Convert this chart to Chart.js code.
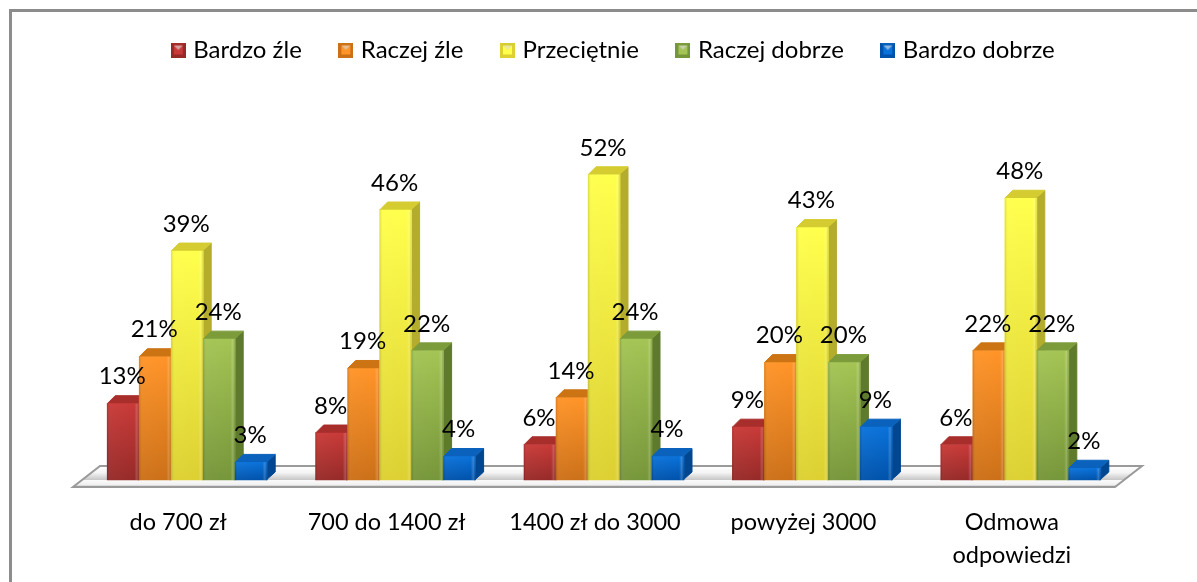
<!DOCTYPE html>
<html>
<head>
<meta charset="utf-8">
<script src="https://cdn.jsdelivr.net/npm/chart.js@4"></script>
<style>
  body { margin: 0; background: #fff; }
  canvas { display: block; }
</style>
</head>
<body>
<canvas id="myChart" width="1197" height="582"></canvas>
<script>
var categories = ["do 700 zł", "700 do 1400 zł", "1400 zł do 3000", "powyżej 3000", ["Odmowa", "odpowiedzi"]];
var seriesNames = ["Bardzo źle", "Raczej źle", "Przeciętnie", "Raczej dobrze", "Bardzo dobrze"];
var bardzoZle = [13, 8, 6, 9, 6];
var raczejZle = [21, 19, 14, 20, 22];
var przecietnie = [39, 46, 52, 43, 48];
var raczejDobrze = [24, 22, 24, 20, 22];
var bardzoDobrze = [3, 4, 4, 9, 2];

// top of front, bottom of front, side, lid
var colors = [
  ["#c83a38", "#962a28", "#8e2624", "#a82e2c"],
  ["#ff9428", "#cc7018", "#b8640e", "#cc7414"],
  ["#ffff4c", "#dcd032", "#b4ac2c", "#d4cc30"],
  ["#a4c454", "#76963a", "#5e7a2c", "#7c9c3c"],
  ["#0a72da", "#0052aa", "#004690", "#0a62bc"]
];

var DEPTH_X = 9, DEPTH_Y = 8;

// beveled legend square like the office 3d key
function makeMarker(c) {
  var cv = document.createElement("canvas");
  cv.width = 15; cv.height = 15;
  var g = cv.getContext("2d");
  g.fillStyle = c[1];
  g.fillRect(0, 0, 15, 15);
  g.fillStyle = c[0];
  g.fillRect(3, 3, 9, 9);
  g.fillStyle = c[3];
  g.beginPath(); g.moveTo(0, 0); g.lineTo(15, 0); g.lineTo(7.5, 7.5); g.closePath(); g.fill();
  g.fillStyle = "rgba(255,255,255,0.55)";
  g.beginPath(); g.moveTo(3, 3); g.lineTo(12, 3); g.lineTo(7.5, 7.5); g.closePath(); g.fill();
  return cv;
}

function frontGradient(context, c) {
  var chart = context.chart;
  if (!chart.chartArea || context.parsed === undefined) return c[0];
  var y = chart.scales.y;
  var g = chart.ctx.createLinearGradient(0, y.getPixelForValue(context.parsed.y), 0, y.getPixelForValue(0));
  g.addColorStop(0, c[0]);
  g.addColorStop(1, c[1]);
  return g;
}

var values = [bardzoZle, raczejZle, przecietnie, raczejDobrze, bardzoDobrze];
var datasets = [];
seriesNames.forEach(function(name, i) {
  datasets.push({
    label: name,
    data: values[i],
    borderWidth: 0,
    barPercentage: 1,
    categoryPercentage: 1,
    barThickness: 32,
    backgroundColor: function(context) { return frontGradient(context, colors[i]); }
  });
});

var framePlugin = {
  id: "frame",
  beforeDraw: function(chart) {
    var c = chart.ctx;
    c.save();
    c.fillStyle = "#8c8c8c";
    c.fillRect(9, 9, 1188, 3);
    c.fillRect(9, 9, 3, 573);
    c.restore();
  },
  afterLayout: function(chart) {
    // legend sits a bit right of the plot centre and higher than its padding
    chart.legend.left += 11;
    chart.legend.right += 11;
    chart.legend.top -= 3;
    chart.legend.bottom -= 3;
  }
};

// floor slab under the bars
function drawFloor(chart) {
  var c = chart.ctx, a = chart.chartArea;
  var l = a.left, r = a.right, b = a.bottom;
  c.save();
  var g = c.createLinearGradient(0, b - 14, 0, b + 8);
  g.addColorStop(0, "#ffffff");
  g.addColorStop(0.3, "#f4f4f4");
  g.addColorStop(0.62, "#c8c8c8");
  g.addColorStop(0.66, "#fafafa");
  g.addColorStop(0.85, "#f0f0f0");
  g.addColorStop(1, "#9a9a9a");
  c.beginPath();
  c.moveTo(l - 10, b + 7);
  c.lineTo(r - 10, b + 7);
  c.lineTo(r + 17, b - 14);
  c.lineTo(l + 17, b - 14);
  c.closePath();
  c.fillStyle = g;
  c.fill();
  c.strokeStyle = "#9a9a9a";
  c.lineWidth = 2;
  c.stroke();
  c.restore();
}

// side and lid of each bar
function drawDepth(chart, i) {
  var c = chart.ctx, col = colors[i];
  c.save();
  c.lineJoin = "round";
  chart.getDatasetMeta(i).data.forEach(function(bar) {
    var p = bar.getProps(["x", "y", "base", "width"], true);
    var x0 = p.x - p.width / 2, x1 = p.x + p.width / 2;
    c.fillStyle = c.strokeStyle = col[2];
    c.lineWidth = 1;
    c.beginPath();
    c.moveTo(x1 - 1, p.y);
    c.lineTo(x1 + DEPTH_X - 1, p.y - DEPTH_Y);
    c.lineTo(x1 + DEPTH_X - 1, p.base - DEPTH_Y);
    c.lineTo(x1 - 1, p.base);
    c.closePath();
    c.fill(); c.stroke();
    c.fillStyle = c.strokeStyle = col[3];
    c.beginPath();
    c.moveTo(x0, p.y);
    c.lineTo(x0 + DEPTH_X - 1, p.y - DEPTH_Y);
    c.lineTo(x1 + DEPTH_X - 1, p.y - DEPTH_Y);
    c.lineTo(x1 - 1, p.y);
    c.closePath();
    c.fill(); c.stroke();
  });
  c.restore();
}

// soft lit edges on the front face
function drawEdges(chart, i) {
  var c = chart.ctx;
  c.save();
  chart.getDatasetMeta(i).data.forEach(function(bar) {
    var p = bar.getProps(["x", "y", "base", "width"], true);
    var x0 = p.x - p.width / 2;
    var g = c.createLinearGradient(x0, 0, x0 + p.width, 0);
    g.addColorStop(0, "rgba(0,0,0,0.14)");
    g.addColorStop(0.1, "rgba(255,255,255,0.03)");
    g.addColorStop(0.85, "rgba(255,255,255,0.0)");
    g.addColorStop(0.93, "rgba(255,255,255,0.18)");
    g.addColorStop(1, "rgba(0,0,0,0.12)");
    c.fillStyle = g;
    c.fillRect(x0, p.y, p.width, p.base - p.y);
  });
  c.restore();
}

// chart.js paints the first dataset last, here the later bars must cover the earlier sides
var barsPlugin = {
  id: "bars3d",
  beforeDatasetsDraw: function(chart) {
    drawFloor(chart);
    chart.data.datasets.forEach(function(ds, i) {
      drawDepth(chart, i);
      chart.getDatasetMeta(i).controller.draw();
      drawEdges(chart, i);
    });
  },
  beforeDatasetDraw: function() {
    return false;
  }
};

var labelPlugin = {
  id: "valueLabels",
  afterDatasetsDraw: function(chart) {
    var c = chart.ctx;
    c.save();
    c.font = "24px Lato";
    c.fillStyle = "#000";
    c.textAlign = "center";
    c.textBaseline = "middle";
    chart.data.datasets.forEach(function(ds, i) {
      chart.getDatasetMeta(i).data.forEach(function(bar, j) {
        c.fillText(ds.data[j] + "%", bar.x - 1, bar.y - 27);
      });
    });
    c.restore();
  }
};

var ctx = document.getElementById("myChart").getContext("2d");
var chart = new Chart(ctx, {
  type: "bar",
  data: { labels: categories, datasets: datasets },
  plugins: [framePlugin, barsPlugin, labelPlugin],
  options: {
    responsive: false,
    animation: false,
    layout: { padding: { top: 0, left: 83, right: 72, bottom: 0 } },
    plugins: {
      tooltip: { enabled: false },
      legend: {
        position: "top",
        labels: {
          padding: 41,
          color: "#000",
          font: { family: "Lato", size: 24 },
          boxWidth: 6,
          boxHeight: 6,
          usePointStyle: true,
          generateLabels: function(chart) {
            return seriesNames.map(function(name, i) {
              return { text: name, datasetIndex: i, pointStyle: makeMarker(colors[i]), fontColor: "#000", lineWidth: 0 };
            });
          }
        }
      }
    },
    scales: {
      x: {
        grid: { display: false },
        border: { display: false },
        afterFit: function(scale) { scale.height = 102; },
        ticks: {
          padding: 18,
          labelOffset: -9,
          color: "#000",
          font: { family: "Lato", size: 23.5, lineHeight: 1.4 },
          maxRotation: 0,
          autoSkip: false
        }
      },
      y: { display: false, min: 0, max: 69 }
    }
  }
});
</script>
</body>
</html>
